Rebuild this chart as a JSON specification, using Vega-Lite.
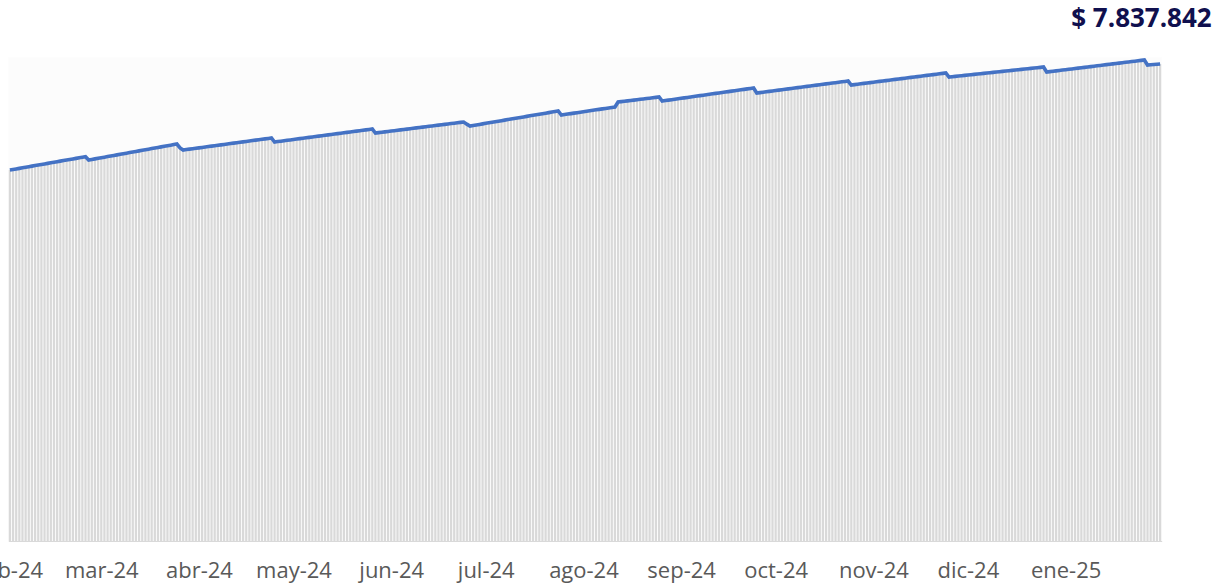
{
"$schema": "https://vega.github.io/schema/vega-lite/v6.json",
"autosize": {"type": "none"},
"width": 1153.4,
"height": 483.8,
"padding": {"left": 8.3, "top": 57.2, "right": 54.3, "bottom": 44.8},
"background": "white",
"title": {"text": "$ 7.837.842", "anchor": "end", "frame": "group", "orient": "top", "font": "Open Sans", "fontSize": 26, "fontWeight": "bold", "color": "#10104e", "dx": 50, "offset": 21},
"config": {"view": {"stroke": null, "fill": "#fcfcfc"}},
"data": {"values": [
{"d":"2024-02-01","v":6096000},{"d":"2024-02-02","v":6105130},{"d":"2024-02-03","v":6114250},{"d":"2024-02-04","v":6123380},{"d":"2024-02-05","v":6132500},{"d":"2024-02-06","v":6141630},{"d":"2024-02-07","v":6150750},{"d":"2024-02-08","v":6159880},{"d":"2024-02-09","v":6169000},{"d":"2024-02-10","v":6178130},{"d":"2024-02-11","v":6187250},{"d":"2024-02-12","v":6196380},{"d":"2024-02-13","v":6205500},{"d":"2024-02-14","v":6214630},{"d":"2024-02-15","v":6223750},{"d":"2024-02-16","v":6232880},{"d":"2024-02-17","v":6242000},{"d":"2024-02-18","v":6251130},{"d":"2024-02-19","v":6260250},{"d":"2024-02-20","v":6269380},{"d":"2024-02-21","v":6278500},{"d":"2024-02-22","v":6287630},{"d":"2024-02-23","v":6296750},{"d":"2024-02-24","v":6305880},{"d":"2024-02-25","v":6315000},{"d":"2024-02-26","v":6260600},{"d":"2024-02-27","v":6269990},{"d":"2024-02-28","v":6279380},{"d":"2024-02-29","v":6288770},
{"d":"2024-03-01","v":6298160},{"d":"2024-03-02","v":6307550},{"d":"2024-03-03","v":6316940},{"d":"2024-03-04","v":6326330},{"d":"2024-03-05","v":6335720},{"d":"2024-03-06","v":6345110},{"d":"2024-03-07","v":6354500},{"d":"2024-03-08","v":6363890},{"d":"2024-03-09","v":6373280},{"d":"2024-03-10","v":6382670},{"d":"2024-03-11","v":6392060},{"d":"2024-03-12","v":6401450},{"d":"2024-03-13","v":6410840},{"d":"2024-03-14","v":6420230},{"d":"2024-03-15","v":6429620},{"d":"2024-03-16","v":6439010},{"d":"2024-03-17","v":6448400},{"d":"2024-03-18","v":6457790},{"d":"2024-03-19","v":6467180},{"d":"2024-03-20","v":6476570},{"d":"2024-03-21","v":6485960},{"d":"2024-03-22","v":6495350},{"d":"2024-03-23","v":6504740},{"d":"2024-03-24","v":6514130},{"d":"2024-03-25","v":6523500},{"d":"2024-03-26","v":6460000},{"d":"2024-03-27","v":6424900},{"d":"2024-03-28","v":6431940},{"d":"2024-03-29","v":6438990},{"d":"2024-03-30","v":6446030},{"d":"2024-03-31","v":6453070},
{"d":"2024-04-01","v":6460110},{"d":"2024-04-02","v":6467160},{"d":"2024-04-03","v":6474200},{"d":"2024-04-04","v":6481240},{"d":"2024-04-05","v":6488290},{"d":"2024-04-06","v":6495330},{"d":"2024-04-07","v":6502370},{"d":"2024-04-08","v":6509410},{"d":"2024-04-09","v":6516460},{"d":"2024-04-10","v":6523500},{"d":"2024-04-11","v":6530540},{"d":"2024-04-12","v":6537590},{"d":"2024-04-13","v":6544630},{"d":"2024-04-14","v":6551670},{"d":"2024-04-15","v":6558710},{"d":"2024-04-16","v":6565760},{"d":"2024-04-17","v":6572800},{"d":"2024-04-18","v":6579840},{"d":"2024-04-19","v":6586890},{"d":"2024-04-20","v":6593930},{"d":"2024-04-21","v":6600970},{"d":"2024-04-22","v":6608010},{"d":"2024-04-23","v":6615060},{"d":"2024-04-24","v":6622100},{"d":"2024-04-25","v":6556400},{"d":"2024-04-26","v":6563290},{"d":"2024-04-27","v":6570180},{"d":"2024-04-28","v":6577070},{"d":"2024-04-29","v":6583960},{"d":"2024-04-30","v":6590850},
{"d":"2024-05-01","v":6597740},{"d":"2024-05-02","v":6604630},{"d":"2024-05-03","v":6611520},{"d":"2024-05-04","v":6618410},{"d":"2024-05-05","v":6625300},{"d":"2024-05-06","v":6632190},{"d":"2024-05-07","v":6639080},{"d":"2024-05-08","v":6645970},{"d":"2024-05-09","v":6652860},{"d":"2024-05-10","v":6659750},{"d":"2024-05-11","v":6666650},{"d":"2024-05-12","v":6673540},{"d":"2024-05-13","v":6680430},{"d":"2024-05-14","v":6687320},{"d":"2024-05-15","v":6694210},{"d":"2024-05-16","v":6701100},{"d":"2024-05-17","v":6707990},{"d":"2024-05-18","v":6714880},{"d":"2024-05-19","v":6721770},{"d":"2024-05-20","v":6728660},{"d":"2024-05-21","v":6735550},{"d":"2024-05-22","v":6742440},{"d":"2024-05-23","v":6749330},{"d":"2024-05-24","v":6756220},{"d":"2024-05-25","v":6763110},{"d":"2024-05-26","v":6770000},{"d":"2024-05-27","v":6704000},{"d":"2024-05-28","v":6710460},{"d":"2024-05-29","v":6716930},{"d":"2024-05-30","v":6723390},{"d":"2024-05-31","v":6729860},
{"d":"2024-06-01","v":6736320},{"d":"2024-06-02","v":6742790},{"d":"2024-06-03","v":6749250},{"d":"2024-06-04","v":6755710},{"d":"2024-06-05","v":6762180},{"d":"2024-06-06","v":6768640},{"d":"2024-06-07","v":6775110},{"d":"2024-06-08","v":6781570},{"d":"2024-06-09","v":6788040},{"d":"2024-06-10","v":6794500},{"d":"2024-06-11","v":6800960},{"d":"2024-06-12","v":6807430},{"d":"2024-06-13","v":6813890},{"d":"2024-06-14","v":6820360},{"d":"2024-06-15","v":6826820},{"d":"2024-06-16","v":6833290},{"d":"2024-06-17","v":6839750},{"d":"2024-06-18","v":6846210},{"d":"2024-06-19","v":6852680},{"d":"2024-06-20","v":6859140},{"d":"2024-06-21","v":6865610},{"d":"2024-06-22","v":6872070},{"d":"2024-06-23","v":6878540},{"d":"2024-06-24","v":6885000},{"d":"2024-06-25","v":6850000},{"d":"2024-06-26","v":6819300},{"d":"2024-06-27","v":6828100},{"d":"2024-06-28","v":6836910},{"d":"2024-06-29","v":6845710},{"d":"2024-06-30","v":6854510},
{"d":"2024-07-01","v":6863320},{"d":"2024-07-02","v":6872120},{"d":"2024-07-03","v":6880930},{"d":"2024-07-04","v":6889730},{"d":"2024-07-05","v":6898530},{"d":"2024-07-06","v":6907340},{"d":"2024-07-07","v":6916140},{"d":"2024-07-08","v":6924940},{"d":"2024-07-09","v":6933750},{"d":"2024-07-10","v":6942550},{"d":"2024-07-11","v":6951350},{"d":"2024-07-12","v":6960160},{"d":"2024-07-13","v":6968960},{"d":"2024-07-14","v":6977760},{"d":"2024-07-15","v":6986570},{"d":"2024-07-16","v":6995370},{"d":"2024-07-17","v":7004170},{"d":"2024-07-18","v":7012980},{"d":"2024-07-19","v":7021780},{"d":"2024-07-20","v":7030590},{"d":"2024-07-21","v":7039390},{"d":"2024-07-22","v":7048190},{"d":"2024-07-23","v":7057000},{"d":"2024-07-24","v":7065800},{"d":"2024-07-25","v":7000000},{"d":"2024-07-26","v":7007740},{"d":"2024-07-27","v":7015470},{"d":"2024-07-28","v":7023210},{"d":"2024-07-29","v":7030940},{"d":"2024-07-30","v":7038680},{"d":"2024-07-31","v":7046410},
{"d":"2024-08-01","v":7054150},{"d":"2024-08-02","v":7061880},{"d":"2024-08-03","v":7069620},{"d":"2024-08-04","v":7077350},{"d":"2024-08-05","v":7085090},{"d":"2024-08-06","v":7092820},{"d":"2024-08-07","v":7100560},{"d":"2024-08-08","v":7108290},{"d":"2024-08-09","v":7116030},{"d":"2024-08-10","v":7123760},{"d":"2024-08-11","v":7131500},{"d":"2024-08-12","v":7213600},{"d":"2024-08-13","v":7219920},{"d":"2024-08-14","v":7226250},{"d":"2024-08-15","v":7232570},{"d":"2024-08-16","v":7238890},{"d":"2024-08-17","v":7245220},{"d":"2024-08-18","v":7251540},{"d":"2024-08-19","v":7257860},{"d":"2024-08-20","v":7264180},{"d":"2024-08-21","v":7270510},{"d":"2024-08-22","v":7276830},{"d":"2024-08-23","v":7283150},{"d":"2024-08-24","v":7289480},{"d":"2024-08-25","v":7295800},{"d":"2024-08-26","v":7230000},{"d":"2024-08-27","v":7237370},{"d":"2024-08-28","v":7244740},{"d":"2024-08-29","v":7252110},{"d":"2024-08-30","v":7259480},{"d":"2024-08-31","v":7266840},
{"d":"2024-09-01","v":7274210},{"d":"2024-09-02","v":7281580},{"d":"2024-09-03","v":7288950},{"d":"2024-09-04","v":7296320},{"d":"2024-09-05","v":7303690},{"d":"2024-09-06","v":7311060},{"d":"2024-09-07","v":7318430},{"d":"2024-09-08","v":7325800},{"d":"2024-09-09","v":7333170},{"d":"2024-09-10","v":7340540},{"d":"2024-09-11","v":7347910},{"d":"2024-09-12","v":7355280},{"d":"2024-09-13","v":7362650},{"d":"2024-09-14","v":7370020},{"d":"2024-09-15","v":7377390},{"d":"2024-09-16","v":7384760},{"d":"2024-09-17","v":7392130},{"d":"2024-09-18","v":7399500},{"d":"2024-09-19","v":7406860},{"d":"2024-09-20","v":7414230},{"d":"2024-09-21","v":7421600},{"d":"2024-09-22","v":7428970},{"d":"2024-09-23","v":7436340},{"d":"2024-09-24","v":7443700},{"d":"2024-09-25","v":7361500},{"d":"2024-09-26","v":7368300},{"d":"2024-09-27","v":7375100},{"d":"2024-09-28","v":7381900},{"d":"2024-09-29","v":7388700},{"d":"2024-09-30","v":7395500},
{"d":"2024-10-01","v":7402300},{"d":"2024-10-02","v":7409100},{"d":"2024-10-03","v":7415900},{"d":"2024-10-04","v":7422700},{"d":"2024-10-05","v":7429500},{"d":"2024-10-06","v":7436300},{"d":"2024-10-07","v":7443100},{"d":"2024-10-08","v":7449900},{"d":"2024-10-09","v":7456700},{"d":"2024-10-10","v":7463500},{"d":"2024-10-11","v":7470300},{"d":"2024-10-12","v":7477100},{"d":"2024-10-13","v":7483900},{"d":"2024-10-14","v":7490700},{"d":"2024-10-15","v":7497500},{"d":"2024-10-16","v":7504300},{"d":"2024-10-17","v":7511100},{"d":"2024-10-18","v":7517900},{"d":"2024-10-19","v":7524700},{"d":"2024-10-20","v":7531500},{"d":"2024-10-21","v":7538300},{"d":"2024-10-22","v":7545100},{"d":"2024-10-23","v":7551900},{"d":"2024-10-24","v":7558700},{"d":"2024-10-25","v":7493000},{"d":"2024-10-26","v":7499570},{"d":"2024-10-27","v":7506150},{"d":"2024-10-28","v":7512720},{"d":"2024-10-29","v":7519290},{"d":"2024-10-30","v":7525870},{"d":"2024-10-31","v":7532440},
{"d":"2024-11-01","v":7539010},{"d":"2024-11-02","v":7545590},{"d":"2024-11-03","v":7552160},{"d":"2024-11-04","v":7558730},{"d":"2024-11-05","v":7565310},{"d":"2024-11-06","v":7571880},{"d":"2024-11-07","v":7578450},{"d":"2024-11-08","v":7585030},{"d":"2024-11-09","v":7591600},{"d":"2024-11-10","v":7598170},{"d":"2024-11-11","v":7604750},{"d":"2024-11-12","v":7611320},{"d":"2024-11-13","v":7617890},{"d":"2024-11-14","v":7624470},{"d":"2024-11-15","v":7631040},{"d":"2024-11-16","v":7637610},{"d":"2024-11-17","v":7644190},{"d":"2024-11-18","v":7650760},{"d":"2024-11-19","v":7657330},{"d":"2024-11-20","v":7663910},{"d":"2024-11-21","v":7670480},{"d":"2024-11-22","v":7677050},{"d":"2024-11-23","v":7683630},{"d":"2024-11-24","v":7690200},{"d":"2024-11-25","v":7624400},{"d":"2024-11-26","v":7629880},{"d":"2024-11-27","v":7635360},{"d":"2024-11-28","v":7640840},{"d":"2024-11-29","v":7646320},{"d":"2024-11-30","v":7651800},
{"d":"2024-12-01","v":7657280},{"d":"2024-12-02","v":7662760},{"d":"2024-12-03","v":7668240},{"d":"2024-12-04","v":7673720},{"d":"2024-12-05","v":7679200},{"d":"2024-12-06","v":7684680},{"d":"2024-12-07","v":7690160},{"d":"2024-12-08","v":7695640},{"d":"2024-12-09","v":7701120},{"d":"2024-12-10","v":7706600},{"d":"2024-12-11","v":7712080},{"d":"2024-12-12","v":7717560},{"d":"2024-12-13","v":7723040},{"d":"2024-12-14","v":7728520},{"d":"2024-12-15","v":7734000},{"d":"2024-12-16","v":7739480},{"d":"2024-12-17","v":7744960},{"d":"2024-12-18","v":7750440},{"d":"2024-12-19","v":7755920},{"d":"2024-12-20","v":7761400},{"d":"2024-12-21","v":7766880},{"d":"2024-12-22","v":7772360},{"d":"2024-12-23","v":7777840},{"d":"2024-12-24","v":7783320},{"d":"2024-12-25","v":7788800},{"d":"2024-12-26","v":7706600},{"d":"2024-12-27","v":7712960},{"d":"2024-12-28","v":7719320},{"d":"2024-12-29","v":7725680},{"d":"2024-12-30","v":7732050},{"d":"2024-12-31","v":7738410},
{"d":"2025-01-01","v":7744770},{"d":"2025-01-02","v":7751130},{"d":"2025-01-03","v":7757490},{"d":"2025-01-04","v":7763850},{"d":"2025-01-05","v":7770210},{"d":"2025-01-06","v":7776570},{"d":"2025-01-07","v":7782940},{"d":"2025-01-08","v":7789300},{"d":"2025-01-09","v":7795660},{"d":"2025-01-10","v":7802020},{"d":"2025-01-11","v":7808380},{"d":"2025-01-12","v":7814740},{"d":"2025-01-13","v":7821100},{"d":"2025-01-14","v":7827460},{"d":"2025-01-15","v":7833830},{"d":"2025-01-16","v":7840190},{"d":"2025-01-17","v":7846550},{"d":"2025-01-18","v":7852910},{"d":"2025-01-19","v":7859270},{"d":"2025-01-20","v":7865630},{"d":"2025-01-21","v":7871990},{"d":"2025-01-22","v":7878350},{"d":"2025-01-23","v":7884720},{"d":"2025-01-24","v":7891080},{"d":"2025-01-25","v":7897440},{"d":"2025-01-26","v":7903800},{"d":"2025-01-27","v":7821600},{"d":"2025-01-28","v":7825660},{"d":"2025-01-29","v":7829720},{"d":"2025-01-30","v":7833780},{"d":"2025-01-31","v":7837842}
]},
"encoding": {
  "x": {"field": "d", "type": "temporal",
        "scale": {"type": "utc", "domain": [{"year": 2024, "month": 1, "date": 31, "hours": 12, "utc": true}, {"year": 2025, "month": 1, "date": 31, "hours": 12, "utc": true}], "nice": false, "padding": 0},
        "axis": {"title": null, "domain": true, "domainColor": "#d9d9d9", "domainWidth": 1, "ticks": false, "grid": false,
                 "labelFont": "Open Sans", "labelFontSize": 22, "labelColor": "#595959", "labelPadding": 20,
                 "labelOverlap": false, "labelFlush": false, "labelBound": false,
                 "tickCount": {"interval": "month", "step": 1},
                 "labelExpr": "['ene','feb','mar','abr','may','jun','jul','ago','sep','oct','nov','dic'][utcmonth(datum.value)] + '-' + utcFormat(datum.value, '%y')"}},
  "y": {"field": "v", "type": "quantitative", "scale": {"domain": [0, 7950000], "nice": false, "zero": true}, "axis": null}
},
"layer": [
  {"mark": {"type": "bar", "color": "#d9d9d9", "width": 2.2}},
  {"mark": {"type": "line", "color": "#4472c4", "strokeWidth": 3.6}}
]
}
